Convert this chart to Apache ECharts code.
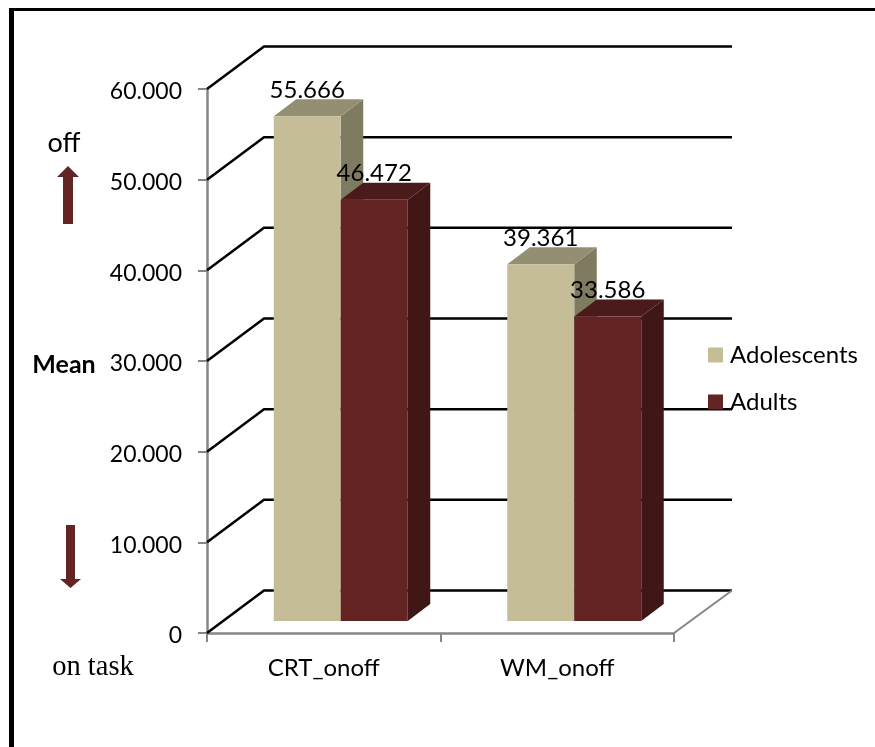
<!DOCTYPE html>
<html>
<head>
<meta charset="utf-8">
<style>html,body{margin:0;padding:0;background:#fff}#c{width:875px;height:747px}</style>
<script src="https://cdn.jsdelivr.net/npm/echarts@6/dist/echarts.min.js"></script>
</head>
<body>
<div id="c"></div>
<script>
const categories = ['CRT_onoff', 'WM_onoff'];
const adolescents = [55.666, 39.361];
const adults = [46.472, 33.586];
const yTicks = [0, 10, 20, 30, 40, 50, 60];
const yTickLabels = ['0', '10.000', '20.000', '30.000', '40.000', '50.000', '60.000'];
const seriesNames = ['Adolescents', 'Adults'];

const FONT = 'Lato';
const WALL_DX = 57, WALL_DY = -42.5;
const BAR_W = 67, BAR_OFF_X = 17, BAR_OFF_Y = -12, BAR_DX = 22.5, BAR_DY = -17;
const SHADES = {
  Adolescents: {front: '#C4BD97', top: '#948F72', side: '#7F7B61'},
  Adults: {front: '#632423', top: '#4A1B1A', side: '#401716'}
};

const chart = echarts.init(document.getElementById('c'), null, {renderer: 'canvas'});

function renderWall(params, api) {
  const rect = params.coordSys;
  const v = api.value(0);
  const y = api.coord([0, v])[1];
  const x0 = rect.x, x1 = rect.x + rect.width;
  const style = {stroke: '#000', lineWidth: 2.5, fill: 'none'};
  const children = [{
    type: 'polyline',
    shape: {points: [[x0, y], [x0 + WALL_DX, y + WALL_DY], [x1 + WALL_DX + 1, y + WALL_DY]]},
    style: style
  }];
  if (v === 0) {
    children.push({
      type: 'line',
      shape: {x1: x1, y1: y, x2: x1 + WALL_DX + 1, y2: y + WALL_DY},
      style: {stroke: '#868686', lineWidth: 2}
    });
  }
  return {type: 'group', children: children};
}

function makeBarRenderer(name, side) {
  return function (params, api) {
    const cat = api.value(0), val = api.value(1);
    const top = api.coord([cat, val]);
    const base = api.coord([cat, 0]);
    const c = SHADES[name];
    const x = top[0] + BAR_OFF_X + (side < 0 ? -BAR_W : 0);
    const yT = top[1] + BAR_OFF_Y, yB = base[1] + BAR_OFF_Y;
    const r = x + BAR_W;
    return {
      type: 'group',
      children: [
        {type: 'polygon', shape: {points: [[r, yT], [r + BAR_DX, yT + BAR_DY], [r + BAR_DX, yB + BAR_DY], [r, yB]]}, style: {fill: c.side}},
        {type: 'polygon', shape: {points: [[x, yT], [x + BAR_DX, yT + BAR_DY], [r + BAR_DX, yT + BAR_DY], [r, yT]]}, style: {fill: c.top}},
        {type: 'rect', shape: {x: x, y: yT, width: BAR_W, height: yB - yT}, style: {fill: c.front}},
        {type: 'text', x: x + BAR_W / 2, y: yT - 26, style: {
          text: val.toFixed(3), fill: '#000', font: '24px ' + FONT, textAlign: 'center', textVerticalAlign: 'middle'
        }}
      ]
    };
  };
}

const ARROW = '#632423';
chart.setOption({
  animation: false,
  backgroundColor: '#fff',
  grid: {left: 207, right: 201, top: 89, bottom: 114, containLabel: false},
  xAxis: {
    type: 'category', data: categories,
    axisLine: {lineStyle: {color: '#868686', width: 2.5}},
    axisTick: {show: true, length: 9, alignWithLabel: false, lineStyle: {color: '#868686', width: 2}},
    axisLabel: {color: '#000', fontFamily: FONT, fontSize: 24, margin: 23},
    splitLine: {show: false}
  },
  yAxis: {
    type: 'value', min: 0, max: 60, interval: 10,
    axisLine: {show: true, lineStyle: {color: '#868686', width: 2.5}},
    axisTick: {show: true, length: 9, lineStyle: {color: '#868686', width: 2}},
    axisLabel: {color: '#000', fontFamily: FONT, fontSize: 23, margin: 25,
      verticalAlign: 'top', lineHeight: 6,
      formatter: v => yTickLabels[yTicks.indexOf(v)]},
    splitLine: {show: false}
  },
  legend: {
    data: seriesNames.map(n => ({name: n, icon: 'rect'})),
    orient: 'vertical', left: 703, top: 338,
    itemWidth: 15, itemHeight: 15, itemGap: 23,
    textStyle: {color: '#000', fontFamily: FONT, fontSize: 24, padding: [0, 0, 0, 2]}
  },
  series: [
    {type: 'custom', name: 'wall', z: 1, silent: true, data: yTicks.map(v => [v]),
      encode: {y: 0}, renderItem: renderWall},
    {type: 'custom', name: seriesNames[0], z: 2, silent: true,
      itemStyle: {color: SHADES.Adolescents.front},
      data: adolescents.map((v, i) => [i, v]), encode: {x: 0, y: 1},
      renderItem: makeBarRenderer(seriesNames[0], -1)},
    {type: 'custom', name: seriesNames[1], z: 3, silent: true,
      itemStyle: {color: SHADES.Adults.front},
      data: adults.map((v, i) => [i, v]), encode: {x: 0, y: 1},
      renderItem: makeBarRenderer(seriesNames[1], 1)}
  ],
  graphic: [
    {type: 'rect', shape: {x: 9, y: 8, width: 5, height: 739}, style: {fill: '#000'}, silent: true},
    {type: 'rect', shape: {x: 9, y: 8, width: 866, height: 3}, style: {fill: '#000'}, silent: true},
    {type: 'text', x: 64, y: 143, silent: true, style: {text: 'off', fill: '#000', font: '27px ' + FONT, textAlign: 'center', textVerticalAlign: 'middle'}},
    {type: 'polygon', silent: true, shape: {points: [[68, 166], [79, 177], [73, 177], [73, 224], [63, 224], [63, 177], [57, 177]]}, style: {fill: ARROW}},
    {type: 'text', x: 64, y: 365, silent: true, style: {text: 'Mean', fill: '#000', font: 'bold 25px ' + FONT, textAlign: 'center', textVerticalAlign: 'middle'}},
    {type: 'polygon', silent: true, shape: {points: [[66, 525], [75, 525], [75, 579], [81, 579], [70.5, 588], [60, 579], [66, 579]]}, style: {fill: ARROW}},
    {type: 'text', x: 93, y: 668, silent: true, style: {text: 'on task', fill: '#000', font: '28.5px "Liberation Serif"', textAlign: 'center', textVerticalAlign: 'middle'}}
  ]
});
</script>
</body>
</html>
